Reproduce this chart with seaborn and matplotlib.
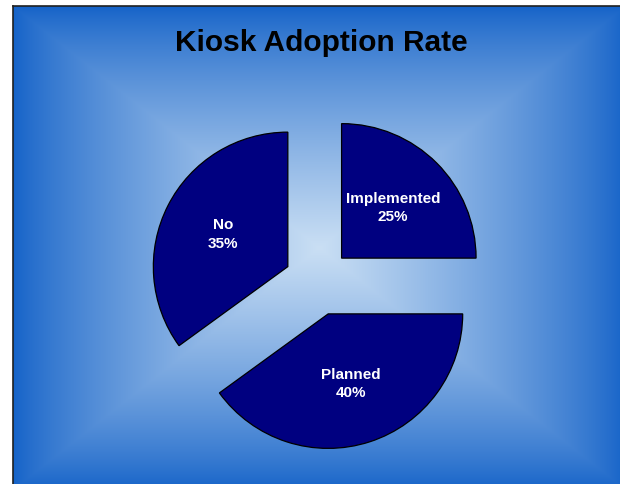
import numpy as np
import matplotlib
matplotlib.use("Agg")
import matplotlib.pyplot as plt
import seaborn as sns
from matplotlib.colors import to_rgb

sns.set_style("white")
plt.rcParams['font.family'] = ['Liberation Sans', 'DejaVu Sans']

# data
categories = ["Implemented", "Planned", "No"]
values = [25, 40, 35]
title = "Kiosk Adoption Rate"

W, H = 620, 485
fig = plt.figure(figsize=(W / 100, H / 100), dpi=100)
fig.patch.set_facecolor("white")

# background box with rectangular "from center" gradient
bx0, by0, bx1, by1 = 13, 7, 626, 491
bg = fig.add_axes([bx0 / W, (H - by1) / H, (bx1 - bx0) / W, (by1 - by0) / H])
nx, ny = 613, 484
xs = np.linspace(-1, 1, nx)
ys = np.linspace(-1, 1, ny)
X, Y = np.meshgrid(xs, ys)
t = np.maximum(np.abs(X), np.abs(Y))
f = (1 - t) ** 0.8
c_edge = np.array(to_rgb("#1462c8"))
c_center = np.array(to_rgb("#cadff4"))
img = c_edge[None, None, :] + (c_center - c_edge)[None, None, :] * f[:, :, None]
bg.imshow(img, aspect="auto", interpolation="bilinear", extent=(0, 1, 0, 1))
bg.set_xlim(0, 1)
bg.set_ylim(0, 1)
bg.set_xticks([])
bg.set_yticks([])
for s in bg.spines.values():
    s.set_color("#202020")
    s.set_linewidth(1.2)

# title
fig.text(321 / W, 1 - 43 / H, title, ha="center", va="center",
         fontsize=21.5, fontweight="bold", color="black")

# pie axes
cx, cy, R = 317.8, 282.9, 134.5
L = 1.6
side = 2 * L * R
ax = fig.add_axes([(cx - side / 2) / W, (H - (cy + side / 2)) / H, side / W, side / H])
ax.set_facecolor("none")
ax.patch.set_alpha(0)

labels = [f"{c}\n{v}%" for c, v in zip(categories, values)]
palette = sns.color_palette(["#000080"] * len(values))
wedges, texts = ax.pie(values, labels=labels, startangle=90, counterclock=False,
                       explode=[0.25] * len(values), radius=1, colors=palette,
                       labeldistance=0.54,
                       wedgeprops=dict(edgecolor="black", linewidth=0.9),
                       textprops=dict(color="white", fontsize=11, fontweight="bold",
                                      linespacing=1.4))
for tx in texts:
    tx.set_ha("center")
    tx.set_va("center")
ax.set_xlim(-L, L)
ax.set_ylim(-L, L)
ax.set_aspect("auto")
ax.axis("off")

fig.savefig("out.png", dpi=100)
